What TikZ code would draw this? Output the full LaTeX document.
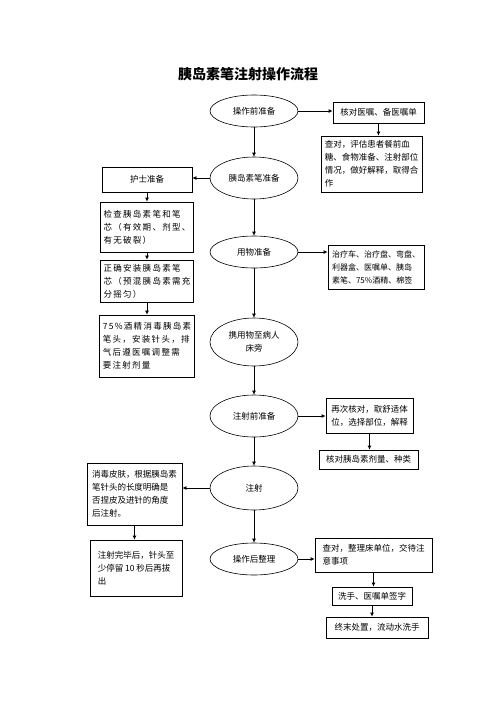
\documentclass[tikz,border=0pt]{standalone}
\usepackage{fontspec}
\setmainfont{Noto Sans CJK SC}
\newfontfamily\spacedcjk[LetterSpace=15]{Noto Sans CJK SC}
\usetikzlibrary{arrows.meta,shapes.geometric}
\begin{document}
\begin{tikzpicture}[x=1pt,y=-1pt,
  box/.style={draw,line width=0.8pt,rectangle,inner sep=3pt,align=left,font=\fontsize{8.5}{13}\selectfont},
  sbox/.style={box,font=\spacedcjk\fontsize{8.5}{13}\selectfont},
  ell/.style={draw,line width=0.6pt,ellipse,inner sep=0pt,align=center,minimum width=88pt,font=\fontsize{8.5}{13}\selectfont},
  arr/.style={draw,line width=0.8pt,-{Latex[length=4pt,width=4pt]}}]
\useasboundingbox (0,0) rectangle (496,702);
\fill[white] (0,0) rectangle (496,702);
\node[font=\bfseries\fontsize{14}{16}\selectfont] (title) at (248,74) {胰岛素笔注射操作流程};
% ellipses
\node[ell,minimum height=32pt] (e1) at (254,111) {操作前准备};
\node[ell,minimum height=42pt] (e2) at (254,178) {胰岛素笔准备};
\node[ell,minimum height=32pt] (e3) at (254,252) {用物准备};
\node[ell,minimum height=48pt] (e4) at (254,342) {携用物至病人\\床旁};
\node[ell,minimum height=42pt] (e5) at (254,416) {注射前准备};
\node[ell,minimum height=44pt] (e6) at (254,488) {注射};
\node[ell,minimum height=32pt] (e7) at (254,559) {操作后整理};
% right boxes
\node[box,minimum width=91pt,minimum height=21pt] (b1) at (378.5,112.5) {核对医嘱、备医嘱单};
\node[box,minimum width=101pt,minimum height=56pt] (b2) at (371.5,164) {查对，评估患者餐前血\\糖、食物准备、注射部位\\情况，做好解释，取得合\\作};
\node[box,minimum width=96pt,minimum height=44pt,inner sep=2pt,font=\fontsize{8}{13}\selectfont] (b3) at (376,267) {治疗车、治疗盘、弯盘、\\利器盒、医嘱单、胰岛\\素笔、75\%酒精、棉签};
\node[box,minimum width=87pt,minimum height=35pt] (b4) at (369.5,415.5) {再次核对，取舒适体\\位，选择部位，解释};
\node[box,minimum width=99pt,minimum height=19pt] (b5) at (368.5,459.5) {核对胰岛素剂量、种类};
\node[box,minimum width=117pt,minimum height=34pt] (b6) at (373.5,555) {查对，整理床单位，交待注\\意事项};
\node[box,minimum width=80pt,minimum height=18pt] (b7) at (372,596) {洗手、医嘱单签字};
\node[box,minimum width=102pt,minimum height=21pt] (b8) at (377,627.5) {终末处置，流动水洗手};
% left boxes
\node[box,minimum width=90pt,minimum height=25pt,align=center] (l1) at (147,179.5) {护士准备};
\node[sbox,minimum width=90pt,minimum height=50pt] (l2) at (147,227) {检查胰岛素笔和笔\\芯（有效期、剂型、\\有无破裂）};
\node[sbox,minimum width=90pt,minimum height=42pt] (l3) at (147,281) {正确安装胰岛素笔\\芯（预混胰岛素需充\\分摇匀）};
\node[sbox,minimum width=90pt,minimum height=62pt] (l4) at (147,346) {75\%酒精消毒胰岛素\\笔头，安装针头，排\\气后遵医嘱调整需\\要注射剂量};
\node[box,minimum width=95pt,minimum height=62pt] (l5) at (134.5,494) {消毒皮肤，根据胰岛素\\笔针头的长度明确是\\否捏皮及进针的角度\\后注射。};
\node[box,minimum width=92pt,minimum height=56pt] (l6) at (136,568) {注射完毕后，针头至\\少停留 10 秒后再拔\\出};
% main chain
\draw[arr] (e1) -- (e2);
\draw[arr] (e2) -- (e3);
\draw[arr] (e3) -- (e4);
\draw[arr] (e4) -- (e5);
\draw[arr] (e5) -- (e6);
\draw[arr] (e6) -- (e7);
% branches
\draw[arr] (e1.east) -- (e1.east -| b1.west);
\draw[arr] (b1.south) -- (b1.south |- b2.north);
\draw[arr] (e2.west) -- (e2.west -| l1.east);
\draw[arr] (l1.south) -- (l1.south |- l2.north);
\draw[arr] (l2.south) -- (l2.south |- l3.north);
\draw[arr] (l3.south) -- (l3.south |- l4.north);
\draw[arr] (e3.east) -- (e3.east -| b3.west);
\draw[arr] (e5.east) -- (e5.east -| b4.west);
\draw[arr] (b4.south) -- (b4.south |- b5.north);
\draw[arr] (e6.west) -- (e6.west -| l5.east);
\draw[arr] (l5.south) -- (l5.south |- l6.north);
\draw[arr] (e7.east) -- (e7.east -| b6.west);
\draw[arr] (b6.south) -- (b6.south |- b7.north);
\draw[arr] (b7.south) -- (b7.south |- b8.north);
\end{tikzpicture}
\end{document}
